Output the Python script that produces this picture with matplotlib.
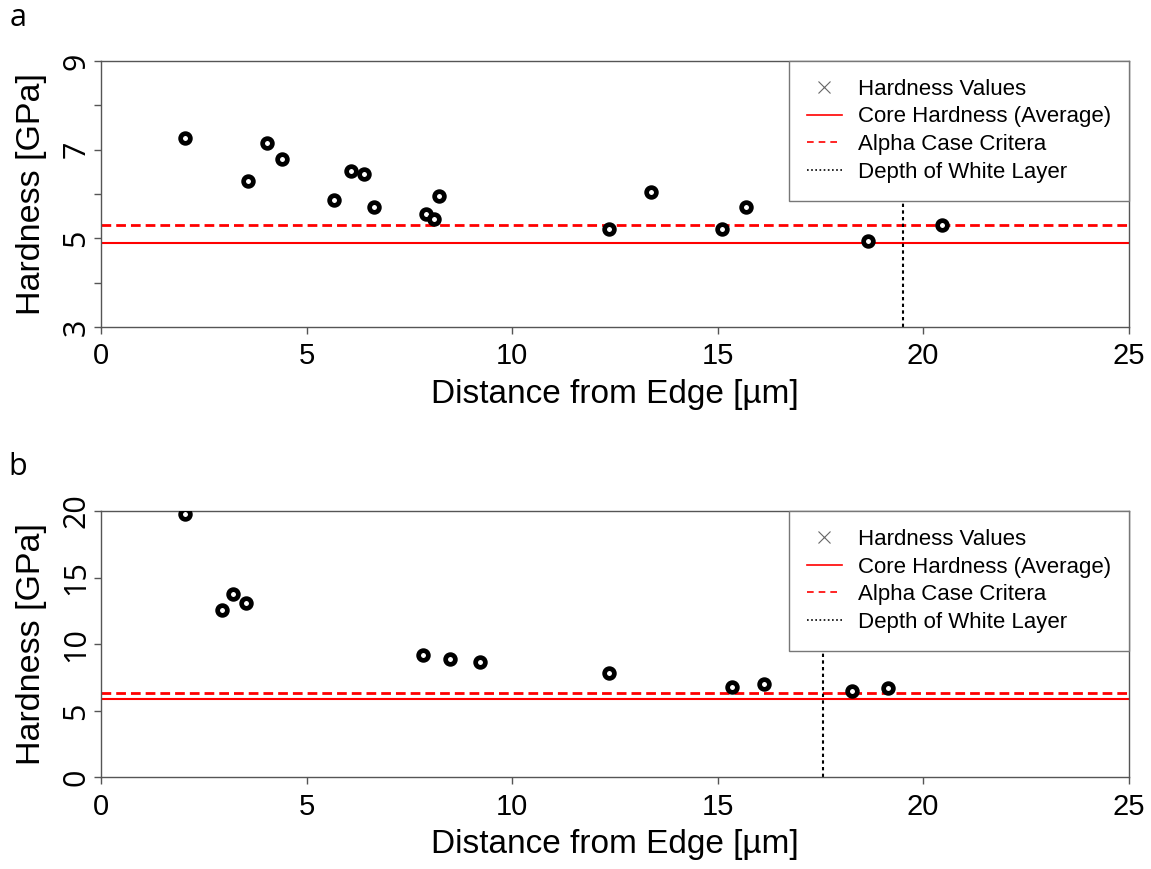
import numpy as np
import matplotlib
matplotlib.use('Agg')
import matplotlib.pyplot as plt
from matplotlib.lines import Line2D

plt.rcParams['font.family'] = ['Liberation Sans', 'DejaVu Sans']

# panel a data
dist_a = [2.04, 3.58, 4.03, 4.40, 5.66, 6.09, 6.40, 6.65, 7.91, 8.10, 8.22,
          12.37, 13.37, 15.10, 15.69, 18.67, 20.47]
hard_a = [7.26, 6.30, 7.16, 6.80, 5.86, 6.52, 6.46, 5.71, 5.55, 5.43, 5.96,
          5.21, 6.05, 5.22, 5.70, 4.95, 5.30]
core_a = 4.89
alpha_a = 5.30
white_a = 19.5

# panel b data
dist_b = [2.04, 2.95, 3.20, 3.52, 7.83, 8.49, 9.22, 12.37, 15.35, 16.14, 18.26, 19.14]
hard_b = [19.77, 12.54, 13.74, 13.06, 9.18, 8.86, 8.63, 7.81, 6.76, 6.98, 6.46, 6.70]
core_b = 5.88
alpha_b = 6.30
white_b = 17.56

legend_labels = ['Hardness Values', 'Core Hardness (Average)',
                 'Alpha Case Critera', 'Depth of White Layer']

fig = plt.figure(figsize=(11.51, 8.69), dpi=100)
ax1 = fig.add_axes([0.0878, 0.6237, 0.8927, 0.3061])
ax2 = fig.add_axes([0.0878, 0.1055, 0.8927, 0.3064])


def draw_panel(ax, x, y, core, alpha, white, ylim, yticks, ylabels):
    ax.plot(x, y, 'o', ms=7, mfc='white', mec='black', mew=3.4, zorder=5)
    ax.axhline(core, color='red', lw=1.5)
    ax.axhline(alpha, color='red', lw=2, linestyle=(0, (3.5, 1.8)))
    ax.axvline(white, color='black', lw=1.5, linestyle=(0, (1.6, 1.6)))

    ax.set_xlim(0, 25)
    ax.set_ylim(*ylim)
    ax.set_xticks([0, 5, 10, 15, 20, 25])
    ax.set_yticks(yticks)
    ax.set_yticklabels(ylabels, rotation=90, va='center',
                       family=['Open Sans', 'DejaVu Sans'])
    ax.tick_params(direction='out', length=5, width=1, color='#555555')
    ax.tick_params(axis='x', labelsize=21, pad=6)
    ax.tick_params(axis='y', labelsize=22, pad=2)
    for s in ax.spines.values():
        s.set_color('#555555')
        s.set_linewidth(1)

    ax.set_xlabel('Distance from Edge [\u00b5m]', fontsize=24, va='baseline')
    ax.xaxis.set_label_coords(0.5, -0.285)
    ax.set_ylabel('Hardness [GPa]', fontsize=24.5, va='baseline')
    ax.yaxis.set_label_coords(-0.0594, 0.5)

    handles = [
        Line2D([], [], marker='x', color='#666666', ls='none', ms=9, mew=0.8),
        Line2D([], [], color='red', lw=1.2),
        Line2D([], [], color='red', lw=1.2, ls=(0, (4, 3))),
        Line2D([], [], color='black', lw=1.2, ls=(0, (1, 1.5))),
    ]
    leg = ax.legend(handles, legend_labels, loc='upper right', fontsize=16,
                    frameon=True, fancybox=False, borderaxespad=0,
                    handlelength=1.6, handletextpad=0.7, borderpad=0.8,
                    labelspacing=0.3)
    leg.get_frame().set_edgecolor('#777777')
    leg.get_frame().set_linewidth(1)
    leg.get_frame().set_alpha(1)
    leg.set_zorder(10)


draw_panel(ax1, dist_a, hard_a, core_a, alpha_a, white_a, (3, 9),
           [3, 4, 5, 6, 7, 8, 9], ['3', '', '5', '', '7', '', '9'])
draw_panel(ax2, dist_b, hard_b, core_b, alpha_b, white_b, (0, 20),
           [0, 5, 10, 15, 20], ['0', '5', '10', '15', '20'])

# panel letters
fig.text(18 / 1151, 1 - 18 / 869, 'a', fontsize=22, ha='center', va='center',
         family=['Open Sans', 'DejaVu Sans'])
fig.text(18 / 1151, 1 - 467 / 869, 'b', fontsize=22, ha='center', va='center',
         family=['Open Sans', 'DejaVu Sans'])

fig.savefig('out.png', dpi=100)
